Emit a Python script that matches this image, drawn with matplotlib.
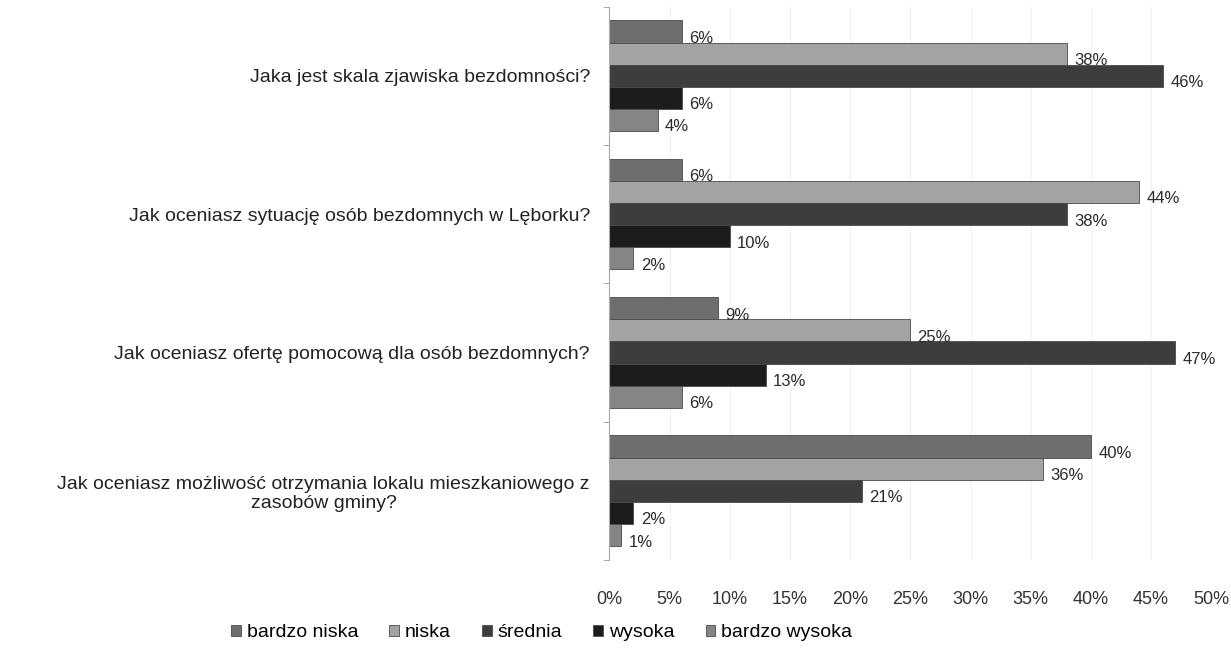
import numpy as np
import matplotlib
matplotlib.use('Agg')
import matplotlib.pyplot as plt
from matplotlib.ticker import FixedLocator

plt.rcParams['font.family'] = ['Liberation Sans', 'DejaVu Sans']

questions = ['Jaka jest skala zjawiska bezdomności?',
             'Jak oceniasz sytuację osób bezdomnych w Lęborku?',
             'Jak oceniasz ofertę pomocową dla osób bezdomnych?',
             'Jak oceniasz możliwość otrzymania lokalu mieszkaniowego z\nzasobów gminy?']
series = ['bardzo niska', 'niska', 'średnia', 'wysoka', 'bardzo wysoka']
bardzo_niska = [6, 6, 9, 40]
niska = [38, 44, 25, 36]
srednia = [46, 38, 47, 21]
wysoka = [6, 10, 13, 2]
bardzo_wysoka = [4, 2, 6, 1]
values = [bardzo_niska, niska, srednia, wysoka, bardzo_wysoka]
colors = ['#6e6e6e', '#a3a3a3', '#3d3d3d', '#1c1c1c', '#858585']

fig = plt.figure(figsize=(12.31, 6.55), dpi=100)
ax = fig.add_axes([0.495, 0.145, 0.489, 0.845])

h = 0.16
y = np.arange(len(questions))
for j, (name, vals, c) in enumerate(zip(series, values, colors)):
    pos = y + (j - 2) * h
    ax.barh(pos, vals, height=h, color=c, edgecolor='#4a4a4a', linewidth=0.6, label=name)
    for p, v in zip(pos, vals):
        ax.text(v + 0.6, p + 0.05, f'{v}%', va='center', ha='left', fontsize=12, color='#2a2a2a')

ax.set_xlim(0, 50)
ax.set_ylim(3.5, -0.5)
ax.set_xticks(np.arange(0, 51, 5))
ax.set_xticklabels([f'{t}%' for t in range(0, 51, 5)], fontsize=13, color='#333333')
ax.tick_params(axis='x', length=0, pad=22)
ax.set_yticks(y)
ax.set_yticklabels(questions, fontsize=14, color='#222222', multialignment='center')
ax.tick_params(axis='y', length=0, pad=14)
ax.yaxis.set_minor_locator(FixedLocator([-0.5, 0.5, 1.5, 2.5, 3.5]))
ax.tick_params(axis='y', which='minor', length=4, color='#999999')
ax.grid(axis='x', color='#f2f2f2', linewidth=0.8)
ax.set_axisbelow(True)
for s in ['top', 'right', 'bottom']:
    ax.spines[s].set_visible(False)
ax.spines['left'].set_color('#aaaaaa')

fig.legend(loc='center', bbox_to_anchor=(0.44, 0.034), ncol=5, frameon=False,
           fontsize=14, handlelength=0.5, handleheight=0.5, handletextpad=0.3,
           columnspacing=1.6)

plt.savefig('out.png', dpi=100)
